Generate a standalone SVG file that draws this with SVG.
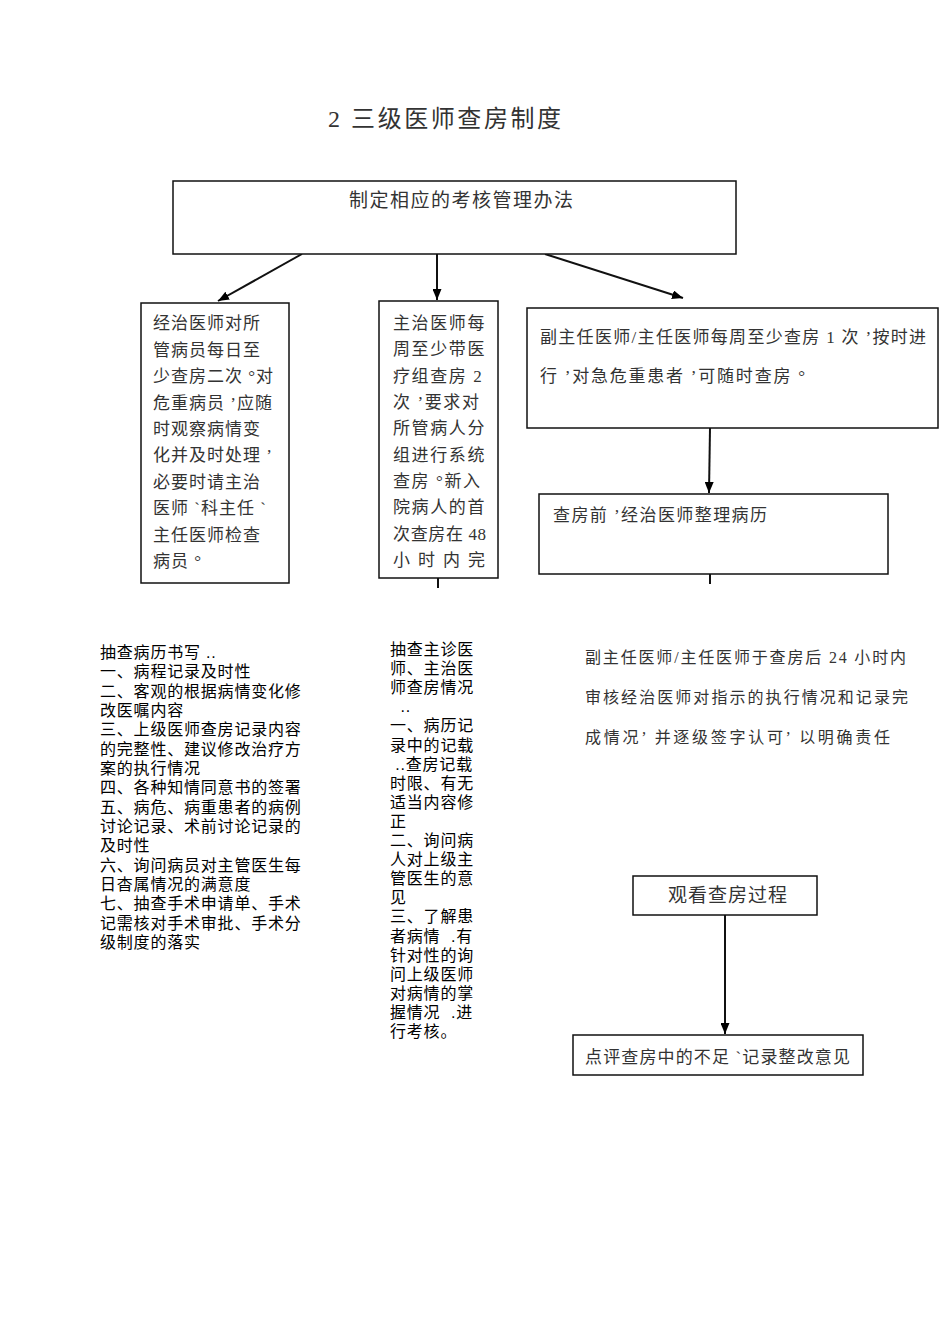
<svg xmlns="http://www.w3.org/2000/svg" width="950" height="1344" viewBox="0 0 950 1344">
<defs>
<marker id="arr" markerWidth="11" markerHeight="9" refX="11" refY="4.5" orient="auto" markerUnits="userSpaceOnUse">
<path d="M0,0 L11,4.5 L0,9 z" fill="#000"/>
</marker>
<style>
.box{fill:#fff;stroke:#111;stroke-width:1.5}
.ln{stroke:#111;stroke-width:2;fill:none}
.serif{font-family:"Liberation Serif","Noto Sans CJK SC",serif;fill:#333}
.sans{font-family:"Liberation Sans","Noto Sans CJK SC",sans-serif;fill:#000;font-size:16px;letter-spacing:0.8px}
</style>
</defs>
<rect width="950" height="1344" fill="#fff"/>
<text class="serif" x="328" y="127" font-size="24" textLength="233" lengthAdjust="spacing" xml:space="preserve">2 三级医师查房制度</text>

<g id="connectors">
<line class="ln" x1="302" y1="254" x2="218" y2="301" marker-end="url(#arr)"/>
<line class="ln" x1="437" y1="254" x2="437" y2="300" marker-end="url(#arr)"/>
<line class="ln" x1="545" y1="254" x2="683" y2="298" marker-end="url(#arr)"/>
<line class="ln" x1="710" y1="428" x2="709" y2="493" marker-end="url(#arr)"/>
<line class="ln" x1="438" y1="578" x2="438" y2="588"/>
<line class="ln" x1="710" y1="574" x2="710" y2="584"/>
<line class="ln" x1="725" y1="915" x2="725" y2="1034" marker-end="url(#arr)"/>
</g>

<g id="n-top">
<rect class="box" x="173" y="181" width="563" height="73"/>
<text class="serif" x="349" y="207" font-size="19" textLength="224" lengthAdjust="spacing">制定相应的考核管理办法</text>
</g>

<g id="n-left">
<rect class="box" x="141" y="303" width="148" height="280"/>
<g class="serif" font-size="17" letter-spacing="1">
<text x="153" y="329">经治医师对所</text>
<text x="153" y="356">管病员每日至</text>
<text x="153" y="382" xml:space="preserve">少查房二次 °对</text>
<text x="153" y="409" xml:space="preserve">危重病员 ’应随</text>
<text x="153" y="435">时观察病情变</text>
<text x="153" y="461" xml:space="preserve">化并及时处理 ’</text>
<text x="153" y="488">必要时请主治</text>
<text x="153" y="514" xml:space="preserve">医师 `科主任 `</text>
<text x="153" y="541">主任医师检查</text>
<text x="153" y="567" xml:space="preserve">病员 °</text>
</g>
</g>

<g id="n-mid">
<rect class="box" x="379" y="301" width="119" height="277"/>
<g class="serif" font-size="17" letter-spacing="1.6">
<text x="393" y="329">主治医师每</text>
<text x="393" y="355">周至少带医</text>
<text x="393" y="382" xml:space="preserve">疗组查房 2</text>
<text x="393" y="408" xml:space="preserve">次 ’要求对</text>
<text x="393" y="434">所管病人分</text>
<text x="393" y="461">组进行系统</text>
<text x="393" y="487" xml:space="preserve">查房 °新入</text>
<text x="393" y="513">院病人的首</text>
<text x="393" y="540" letter-spacing="0" textLength="93" lengthAdjust="spacing" xml:space="preserve">次查房在 48</text>
<text x="393 418 443 468" y="566">小时内完</text>
</g>
</g>

<g id="n-right">
<rect class="box" x="527" y="308" width="411" height="120"/>
<text class="serif" x="540" y="343" font-size="17" textLength="386" lengthAdjust="spacing" xml:space="preserve">副主任医师/主任医师每周至少查房 1 次 ’按时进</text>
<text class="serif" x="540" y="382" font-size="17" textLength="265" lengthAdjust="spacing" xml:space="preserve">行 ’对急危重患者 ’可随时查房 °</text>
</g>

<g id="n-prep">
<rect class="box" x="539" y="494" width="349" height="80"/>
<text class="serif" x="553" y="521" font-size="17" textLength="214" lengthAdjust="spacing" xml:space="preserve">查房前 ’经治医师整理病历</text>
</g>

<g id="n-check1" class="sans">
<text x="100" y="658" xml:space="preserve">抽查病历书写 ..</text>
<text x="100" y="677.3">一、病程记录及时性</text>
<text x="100" y="696.7">二、客观的根据病情变化修</text>
<text x="100" y="716">改医嘱内容</text>
<text x="100" y="735.3">三、上级医师查房记录内容</text>
<text x="100" y="754.7">的完整性、建议修改治疗方</text>
<text x="100" y="774">案的执行情况</text>
<text x="100" y="793.3">四、各种知情同意书的签署</text>
<text x="100" y="812.7">五、病危、病重患者的病例</text>
<text x="100" y="832">讨论记录、术前讨论记录的</text>
<text x="100" y="851.3">及时性</text>
<text x="100" y="870.7">六、询问病员对主管医生每</text>
<text x="100" y="890">日杳属情况的满意度</text>
<text x="100" y="909.3">七、抽查手术申请单、手术</text>
<text x="100" y="928.7">记需核对手术审批、手术分</text>
<text x="100" y="948">级制度的落实</text>
</g>

<g id="n-check2" class="sans">
<text x="390" y="655">抽查主诊医</text>
<text x="390" y="674.1">师、主治医</text>
<text x="390" y="693.2">师查房情况</text>
<text x="390" y="712.3" xml:space="preserve">  ..</text>
<text x="390" y="731.4">一、病历记</text>
<text x="390" y="750.5">录中的记载</text>
<text x="390" y="769.6" xml:space="preserve"> ..查房记载</text>
<text x="390" y="788.7">时限、有无</text>
<text x="390" y="807.8">适当内容修</text>
<text x="390" y="826.9">正</text>
<text x="390" y="846">二、询问病</text>
<text x="390" y="865.1">人对上级主</text>
<text x="390" y="884.2">管医生的意</text>
<text x="390" y="903.3">见</text>
<text x="390" y="922.4">三、了解患</text>
<text x="390" y="941.5" xml:space="preserve">者病情  .有</text>
<text x="390" y="960.6">针对性的询</text>
<text x="390" y="979.7">问上级医师</text>
<text x="390" y="998.8">对病情的掌</text>
<text x="390" y="1017.9" xml:space="preserve">握情况  .进</text>
<text x="390" y="1037">行考核。</text>
</g>

<g id="n-review">
<text class="serif" x="585" y="663" font-size="16" textLength="321" lengthAdjust="spacing" xml:space="preserve">副主任医师/主任医师于查房后 24 小时内</text>
<text class="serif" x="585" y="703" font-size="16" textLength="323" lengthAdjust="spacing">审核经治医师对指示的执行情况和记录完</text>
<text class="serif" x="585" y="743" font-size="16" textLength="305" lengthAdjust="spacing" xml:space="preserve">成情况’ 并逐级签字认可’ 以明确责任</text>
</g>

<g id="n-watch">
<rect class="box" x="633" y="876" width="184" height="39"/>
<text class="serif" x="668" y="902" font-size="19" textLength="119" lengthAdjust="spacing">观看查房过程</text>
</g>

<g id="n-comment">
<rect class="box" x="573" y="1035" width="290" height="40"/>
<text class="serif" x="585" y="1063" font-size="17" textLength="265" lengthAdjust="spacing" xml:space="preserve">点评查房中的不足 `记录整改意见</text>
</g>
</svg>
